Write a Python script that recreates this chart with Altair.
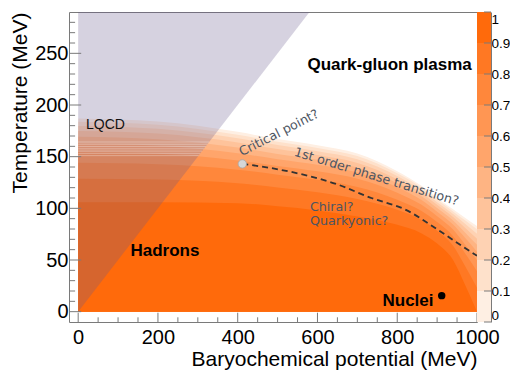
import altair as alt
import pandas as pd

# ---------------- data ----------------
MU = [0, 200, 400, 500, 600, 700, 800, 860, 900, 940, 970, 1000]
CONTOUR_0 = [187, 184, 174, 167, 161, 153, 136, 122, 110, 99, 91, 83]
CONTOUR_1 = [183.8, 180.9, 171.2, 164.4, 158.5, 150.6, 133.9, 120.2, 108.2, 97.0, 88.4, 79.7]
CONTOUR_2 = [179.7, 177.0, 167.8, 161.2, 155.3, 147.5, 131.3, 117.9, 106.0, 94.6, 85.2, 75.5]
CONTOUR_3 = [174.9, 172.3, 163.7, 157.3, 151.6, 143.9, 128.2, 115.1, 103.4, 91.7, 81.3, 70.5]
CONTOUR_4 = [169.2, 166.8, 158.8, 152.7, 147.1, 139.6, 124.6, 111.9, 100.3, 88.2, 76.7, 64.7]
CONTOUR_5 = [162.7, 160.6, 153.3, 147.5, 142.1, 134.7, 120.4, 108.2, 96.8, 84.3, 71.5, 58.1]
CONTOUR_6 = [154.6, 152.8, 146.4, 141.0, 135.8, 128.6, 115.2, 103.6, 92.4, 79.4, 65.0, 49.8]
CONTOUR_7 = [144.1, 142.7, 137.4, 132.6, 127.6, 120.7, 108.4, 97.6, 86.7, 73.0, 56.6, 39.0]
CONTOUR_8 = [128.7, 127.8, 124.3, 120.2, 115.6, 109.1, 98.6, 88.9, 78.3, 63.7, 44.2, 23.2]
CONTOUR_9 = [106, 106, 105, 102, 98, 92, 84, 76, 66, 50, 26, 0]
CONTOURS = [CONTOUR_0, CONTOUR_1, CONTOUR_2, CONTOUR_3, CONTOUR_4,
            CONTOUR_5, CONTOUR_6, CONTOUR_7, CONTOUR_8, CONTOUR_9]

LEVELS = ["0.0", "0.1", "0.2", "0.3", "0.4", "0.5", "0.6", "0.7", "0.8", "0.9"]
LEVEL_LO = [0.0, 0.1, 0.2, 0.3, 0.4, 0.5, 0.6, 0.7, 0.8, 0.9]
LEVEL_HI = [0.1, 0.2, 0.3, 0.4, 0.5, 0.6, 0.7, 0.8, 0.9, 1.0]
BAND_COLORS = ["#feefe3", "#fee1cb", "#fed2b3", "#fec39b", "#feb483",
               "#ffa56b", "#ff9653", "#ff873b", "#ff7823", "#ff6a0b"]
CB_TICKS = [0, 0.1, 0.2, 0.3, 0.4, 0.5, 0.6, 0.7, 0.8, 0.9, 1.0]

LQCD_MU = [0, 580]
LQCD_T = [0, 290]
LQCD_TOP = [290, 290]
# thin light stripes visible inside the LQCD wedge
STRIPE_T = [151, 153.2, 155.4, 157.6, 159.8, 162, 164.2]
STRIPE_END = [302, 306, 311, 315, 320, 324, 328]

DASH_MU = [411.5, 483, 651, 735, 819, 903, 953, 1000]
DASH_T = [143, 139, 123, 110, 99, 79, 66, 54]

CRIT_MU = [411.5]
CRIT_T = [143]
NUCLEI_MU = [911.5]
NUCLEI_T = [15.5]

X_LABELS = [0, 200, 400, 600, 800, 1000]
X_MINOR = [50, 100, 150, 250, 300, 350, 450, 500, 550, 650, 700, 750, 850, 900, 950]
Y_LABELS = [0, 50, 100, 150, 200, 250]
Y_MINOR = [10, 20, 30, 40, 60, 70, 80, 90, 110, 120, 130, 140, 160, 170, 180, 190,
           210, 220, 230, 240, 260, 270, 280]

# ---------------- chart ----------------
W, H = 408, 310
TICK_C = "#7a7a7a"
GRAY_TXT = "#4d5562"
X_SCALE = alt.Scale(domain=[-23, 1000], nice=False, zero=False)
Y_SCALE = alt.Scale(domain=[-10, 290], nice=False, zero=False)
CB_SCALE = alt.Scale(domain=[0, 1], nice=False, zero=False)

X_AXIS = alt.Axis(values=X_LABELS, format="d", title="Baryochemical potential (MeV)",
                  ticks=False, domain=False, grid=False, labelFontSize=20, labelPadding=5,
                  labelFlush=False, labelOverlap=False, titleFontSize=21,
                  titleX=W, titleY=43, titleAlign="right", titleBaseline="alphabetic")
Y_AXIS = alt.Axis(values=Y_LABELS, format="d", title="Temperature (MeV)", ticks=False,
                  domain=False, grid=False, labelFontSize=20, labelPadding=1,
                  labelFlush=False, labelOverlap=False, titleFontSize=21,
                  titleAngle=270, titleX=-43, titleY=0, titleAlign="right",
                  titleBaseline="alphabetic")
CB_AXIS = alt.Axis(orient="right", offset=14, values=CB_TICKS, format="~g",
                   ticks=False, domain=True, domainColor=TICK_C, grid=False,
                   labelFontSize=13.5, labelPadding=0, title=None,
                   labelFlush=True, labelOverlap=False)


def X(field):
    return alt.X(field, scale=X_SCALE, axis=X_AXIS)


def Y(field):
    return alt.Y(field, scale=Y_SCALE, axis=Y_AXIS)


layers = []
for i, T in enumerate(CONTOURS):
    df = pd.DataFrame({"mu": MU, "T": T})
    layers.append(
        alt.Chart(df).mark_area(color=BAND_COLORS[i], interpolate="monotone")
        .encode(x=X("mu:Q"), y=Y("T:Q"), y2=alt.datum(0))
    )

lqcd = alt.Chart(pd.DataFrame({"mu": LQCD_MU, "T": LQCD_T, "top": LQCD_TOP})).mark_area(
    color="#685a8c", opacity=0.27).encode(x=X("mu:Q"), y=Y("T:Q"), y2="top:Q")
stripes = alt.Chart(pd.DataFrame({"T": STRIPE_T, "end": STRIPE_END, "start": [0] * len(STRIPE_T)})
                    ).mark_rule(color="white", opacity=0.3, strokeWidth=1).encode(
    y=Y("T:Q"), x=X("start:Q"), x2="end:Q")
layers += [lqcd, stripes]

xmaj = alt.Chart(pd.DataFrame({"v": X_LABELS})).mark_rule(color=TICK_C).encode(
    x=X("v:Q"), y=alt.value(H), y2=alt.value(H - 9.3))
xmin = alt.Chart(pd.DataFrame({"v": X_MINOR})).mark_rule(color=TICK_C).encode(
    x=X("v:Q"), y=alt.value(H), y2=alt.value(H - 4.7))
ymaj = alt.Chart(pd.DataFrame({"v": Y_LABELS})).mark_rule(color=TICK_C).encode(
    y=Y("v:Q"), x=alt.value(0), x2=alt.value(12.2))
ymin = alt.Chart(pd.DataFrame({"v": Y_MINOR})).mark_rule(color=TICK_C).encode(
    y=Y("v:Q"), x=alt.value(0), x2=alt.value(6.1))
layers += [xmaj, xmin, ymaj, ymin]

dash = alt.Chart(pd.DataFrame({"mu": DASH_MU, "T": DASH_T})).mark_line(
    color="#333333", strokeWidth=1.8, strokeDash=[6, 4], interpolate="monotone").encode(
    x=X("mu:Q"), y=Y("T:Q"))
crit = alt.Chart(pd.DataFrame({"mu": CRIT_MU, "T": CRIT_T})).mark_point(
    filled=True, fill="#d6d6d6", stroke="#a8a8a8", strokeWidth=0.8, size=70, opacity=1).encode(
    x=X("mu:Q"), y=Y("T:Q"))
nuc = alt.Chart(pd.DataFrame({"mu": NUCLEI_MU, "T": NUCLEI_T})).mark_point(
    filled=True, color="black", size=55, opacity=1).encode(x=X("mu:Q"), y=Y("T:Q"))
layers += [dash, crit, nuc]


def label(text, mu, T, **kw):
    return alt.Chart(pd.DataFrame({"mu": [mu], "T": [T], "t": [text]})).mark_text(**kw).encode(
        x=X("mu:Q"), y=Y("T:Q"), text="t:N")


BOLD = dict(font="Liberation Sans", fontSize=17, fontWeight="bold", color="black",
            baseline="middle")
GRAY = dict(font="DejaVu Sans", fontSize=12.7, color=GRAY_TXT, baseline="middle")
layers += [
    label("Quark-gluon plasma", 987, 238.7, align="right", **BOLD),
    label("Hadrons", 217.6, 59, align="center", **BOLD),
    label("Nuclei", 827, 10.8, align="center", **BOLD),
    label("LQCD", 19.6, 180.4, align="left", font="Liberation Sans", fontSize=14,
          color="#111111", baseline="middle"),
    label("Critical point?", 503.5, 173, align="center", angle=333, **GRAY),
    label("1st order phase transition?", 748, 130.6, align="center", angle=17, **GRAY),
    label("Chiral?", 581, 101.3, align="left", **GRAY),
    label("Quarkyonic?", 581, 87.8, align="left", **GRAY),
]

main = alt.layer(*layers)

cb_df = pd.DataFrame({"lo": LEVEL_LO, "hi": LEVEL_HI, "level": LEVELS})
cb_rects = alt.Chart(cb_df).mark_rect().encode(
    x=alt.value(W), x2=alt.value(W + 14),
    y=alt.Y("lo:Q", scale=CB_SCALE, axis=CB_AXIS), y2="hi:Q",
    color=alt.Color("level:N", scale=alt.Scale(domain=LEVELS, range=BAND_COLORS), legend=None))
cb_ticks = alt.Chart(pd.DataFrame({"v": CB_TICKS})).mark_rule(color=TICK_C).encode(
    y=alt.Y("v:Q", scale=CB_SCALE, axis=CB_AXIS), x=alt.value(W + 7), x2=alt.value(W + 14))
cbar = alt.layer(cb_rects, cb_ticks)

chart = alt.layer(main, cbar).resolve_scale(y="independent").properties(
    width=W, height=H,
    autosize=alt.AutoSizeParams(type="none"),
    padding={"left": 61, "top": 4, "right": 33, "bottom": 50},
).configure_view(stroke=TICK_C, strokeWidth=1).configure_axis(
    labelFont="Liberation Sans", titleFont="Liberation Sans", labelColor="black",
    titleColor="black", titleFontWeight="normal")

chart.save("out.html", embed_options={"renderer": "svg", "actions": False})
